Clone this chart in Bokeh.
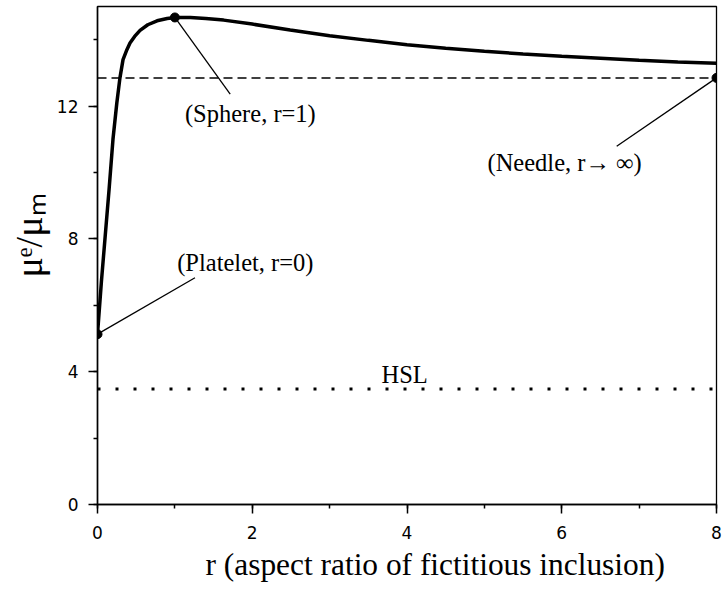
from bokeh.plotting import figure
from bokeh.models import Range1d, SingleIntervalTicker, Label, Title
from bokeh.embed import file_html
from bokeh.resources import INLINE

# Main curve: effective modulus ratio vs aspect ratio
r_vals = [0, 0.05, 0.1, 0.15, 0.2, 0.25, 0.29, 0.33, 0.38, 0.42, 0.48, 0.55, 0.65,
          0.77, 0.9, 1.0, 1.2, 1.4, 1.63, 2.0, 2.49, 3.0, 3.5, 4.0, 4.5, 5.0,
          5.5, 6.0, 6.5, 7.0, 7.5, 8.0]
mu_vals = [5.13, 6.7, 8.1, 9.5, 11.0, 12.1, 12.85, 13.4, 13.7, 13.9, 14.1, 14.28, 14.45,
           14.57, 14.64, 14.67, 14.67, 14.64, 14.59, 14.47, 14.29, 14.12, 13.98, 13.85,
           13.74, 13.65, 13.57, 13.5, 13.44, 13.38, 13.33, 13.29]

needle_level = 12.85
hsl_level = 3.48
line_x = [0, 8]

# Marked special cases
pt_names = ["(Platelet, r=0)", "(Sphere, r=1)", "(Needle, r\u2192 \u221e)"]
pt_x = [0, 1, 8]
pt_y = [5.13, 14.67, 12.85]
leader_end_x = [1.26, 1.715, 6.71]
leader_end_y = [6.83, 12.36, 10.79]
label_x = [1.03, 1.13, 5.04]
label_y = [7.29, 11.78, 10.31]

hsl_label = "HSL"
hsl_label_x = 3.67
hsl_label_y = 3.93

x_title = "r (aspect ratio of fictitious inclusion)"
y_title = "\u03bc\u1d49/\u03bc\u2098"

p = figure(width=722, height=590, output_backend="svg", toolbar_location=None,
           x_range=Range1d(0, 8), y_range=Range1d(0, 15),
           min_border_left=97, min_border_right=6, min_border_top=6, min_border_bottom=86)
p.xgrid.visible = False
p.ygrid.visible = False
p.outline_line_color = "black"
p.outline_line_width = 1.3
p.outline_line_alpha = 1.0

p.xaxis.ticker = SingleIntervalTicker(interval=2, num_minor_ticks=2)
p.yaxis.ticker = SingleIntervalTicker(interval=4, num_minor_ticks=2)
for ax in (p.xaxis, p.yaxis):
    ax.axis_line_width = 1.5
    ax.axis_line_color = "black"
    ax.major_tick_line_width = 1.5
    ax.minor_tick_line_width = 1.5
    ax.major_tick_line_color = "black"
    ax.minor_tick_line_color = "black"
    ax.major_tick_out = 9
    ax.major_tick_in = 0
    ax.minor_tick_out = 4
    ax.minor_tick_in = 0
    ax.major_label_text_font = "DejaVu Sans"
    ax.major_label_text_font_size = "17px"
    ax.major_label_text_color = "black"
p.xaxis.major_label_standoff = 12
p.yaxis.major_label_standoff = 10

# reference lines
p.line(line_x, [needle_level, needle_level], line_color="black", line_width=1.5, line_dash="9 5")
p.line(line_x, [hsl_level, hsl_level], line_color="black", line_width=3, line_dash="3 15")

# main curve
p.line(r_vals, mu_vals, line_color="black", line_width=3.5)

# leaders
for i in range(len(pt_x)):
    p.line([pt_x[i], leader_end_x[i]], [pt_y[i], leader_end_y[i]], line_color="black", line_width=1.3)
p.scatter(pt_x, pt_y, size=9, fill_color="black", line_color="black")

for i in range(len(pt_names)):
    p.add_layout(Label(x=label_x[i], y=label_y[i], text=pt_names[i],
                       text_font="Liberation Serif", text_font_size="24.5px",
                       text_baseline="middle", text_align="left", text_color="black"))
p.add_layout(Label(x=hsl_label_x, y=hsl_label_y, text=hsl_label,
                   text_font="Liberation Serif", text_font_size="24.5px",
                   text_baseline="middle", text_align="left", text_color="black"))

# axis titles as side titles
p.add_layout(Title(text=x_title, align="left", offset=108, text_font="Liberation Serif",
                   text_font_size="31.4px", text_font_style="normal", text_color="black",
                   standoff=7), "below")
p.add_layout(Title(text=y_title, align="left", offset=227, text_font="Liberation Serif",
                   text_font_size="38px", text_font_style="normal", text_color="black",
                   standoff=8), "left")

open("out.html", "w").write(file_html(p, INLINE))
